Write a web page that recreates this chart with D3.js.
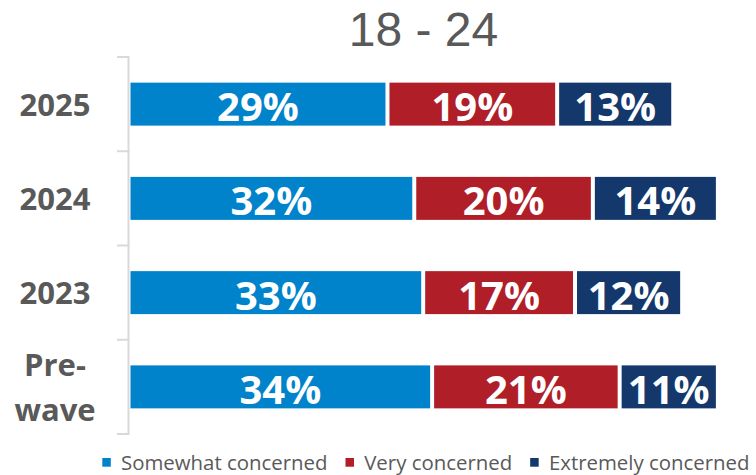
<!DOCTYPE html>
<html>
<head>
<meta charset="utf-8">
<script src="https://cdn.jsdelivr.net/npm/d3@7"></script>
<style>
  html, body { margin: 0; padding: 0; background: #fff; }
  svg { display: block; }
</style>
</head>
<body>
<div id="chart"></div>
<script>
const title = "18 - 24";
const categories = ["2025", "2024", "2023", "Pre-wave"];
const categoryLines = [["2025"], ["2024"], ["2023"], ["Pre-", "wave"]];
const seriesNames = ["Somewhat concerned", "Very concerned", "Extremely concerned"];
const somewhat = [29, 32, 33, 34];
const very = [19, 20, 17, 21];
const extremely = [13, 14, 12, 11];
const colors = ["#0083CA", "#B01E28", "#14386C"];

const W = 756, H = 475;
const svg = d3.select("#chart").append("svg").attr("width", W).attr("height", H);

const x = d3.scaleLinear().domain([0, 70]).range([128.5, 128.5 + 70 * 8.93]);
const y = d3.scaleBand().domain(categories).range([57, 434])
  .paddingInner(0.544).paddingOuter(0.272);

// Title
svg.append("text").attr("x", 423.5).attr("y", 45.7)
  .attr("text-anchor", "middle")
  .attr("font-family", "'Liberation Sans', Arial, sans-serif")
  .attr("font-size", 48).attr("fill", "#595959").text(title);

// Axis line and ticks at band boundaries
const axisG = svg.append("g");
const [r0, r1] = y.range();
axisG.append("line").attr("x1", 128.5).attr("x2", 128.5).attr("y1", r0).attr("y2", r1)
  .attr("stroke", "#D9D9D9").attr("stroke-width", 2);
const boundaries = d3.range(categories.length + 1).map(i => r0 + i * y.step());
axisG.selectAll("line.tick").data(boundaries).join("line").attr("class", "tick")
  .attr("x1", 117).attr("x2", 129.5).attr("y1", d => d).attr("y2", d => d)
  .attr("stroke", "#D9D9D9").attr("stroke-width", 2);

// Category labels
const lab = svg.append("g");
categories.forEach((c, i) => {
  const lines = categoryLines[i];
  const cy = y(c) + y.bandwidth() / 2;
  const first = cy + 11.5 - (lines.length - 1) * 45 / 2;
  const t = lab.append("text").attr("text-anchor", "middle")
    .attr("font-family", "'Open Sans', sans-serif").attr("font-weight", 700)
    .attr("font-size", 31).attr("fill", "#595959");
  lines.forEach((l, j) => {
    t.append("tspan").attr("x", 55).attr("y", first + j * 45).text(l);
  });
});

// Stacked data
const table = categories.map((c, i) => ({
  cat: c, [seriesNames[0]]: somewhat[i], [seriesNames[1]]: very[i], [seriesNames[2]]: extremely[i]
}));
const stacked = d3.stack().keys(seriesNames)(table);

const bars = svg.append("g");
stacked.forEach((layer, k) => {
  const g = bars.append("g");
  g.selectAll("rect").data(layer).join("rect")
    .attr("x", d => x(d[0]) + 2)
    .attr("y", d => y(d.data.cat))
    .attr("width", d => x(d[1]) - x(d[0]) - 4)
    .attr("height", y.bandwidth())
    .attr("fill", colors[k]);
  g.selectAll("text").data(layer).join("text")
    .attr("x", d => (x(d[0]) + x(d[1])) / 2)
    .attr("y", d => y(d.data.cat) + y.bandwidth() / 2 + 17)
    .attr("text-anchor", "middle")
    .attr("font-family", "'Open Sans', sans-serif").attr("font-weight", 700)
    .attr("font-size", 40).attr("fill", "#fff")
    .text(d => (d[1] - d[0]) + "%");
});

// Legend
const leg = svg.append("g");
let lx = 102.3;
seriesNames.forEach((s, k) => {
  leg.append("rect").attr("x", lx).attr("y", 458).attr("width", 8.5).attr("height", 8.7)
    .attr("fill", colors[k]);
  const t = leg.append("text").attr("x", lx + 18.7).attr("y", 469.5)
    .attr("font-family", "'Open Sans', sans-serif").attr("font-size", 20.4)
    .attr("fill", "#595959").text(s);
  lx = lx + 18.7 + t.node().getComputedTextLength() + 18;
});
</script>
</body>
</html>
